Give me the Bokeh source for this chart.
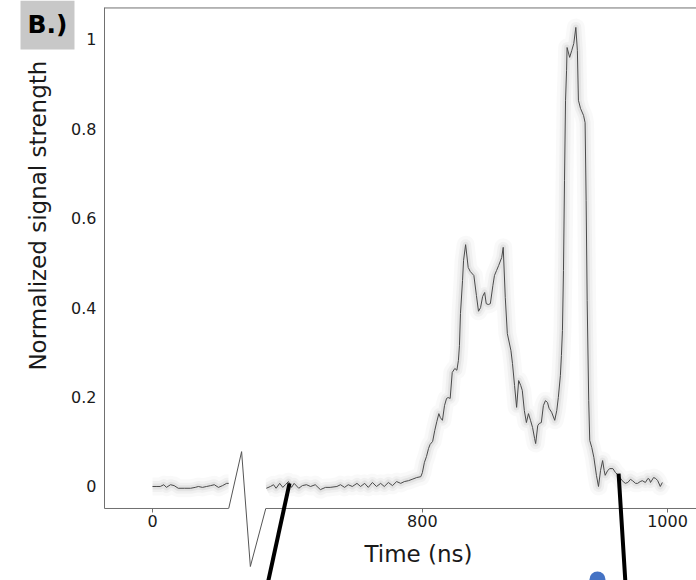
import numpy as np
from bokeh.plotting import figure
from bokeh.models import FixedTicker, Label
from bokeh.embed import file_html
from bokeh.resources import INLINE

# ---- data (time axis: the 0 / 800 / 1000 labels sit at these positions) ----
pre_time = [0, 7, 15, 22, 27, 35, 42, 50, 62, 74, 83, 89, 97, 105, 113, 120, 128, 136, 144, 148]
pre_signal = [0, 0, 0, 0.004, -0.002, 0.004, 0.002, -0.004, -0.004, -0.004, -0.002, 0, -0.002, 0,
              0.002, 0.004, -0.002, 0.002, 0.007, 0.007]

post_time = [221, 229, 235, 240, 247, 253, 258, 264, 270, 275, 284, 291, 299, 307, 316, 326, 336, 345,
             358, 365, 373, 380, 388, 397, 404, 412, 419, 427, 435, 443, 450, 458, 466, 474, 482, 489,
             497, 504, 513, 521, 524, 528, 532, 536, 539, 544, 548, 552, 556, 559, 563, 567, 571, 574,
             578, 582, 587, 591, 594, 596, 598, 602, 604, 608, 613, 617, 624, 629, 633, 637, 641, 645,
             648, 652, 656, 661, 664, 668, 672, 678, 681, 685, 689, 696, 699, 703, 707, 711, 715, 718,
             722, 726, 730, 734, 738, 742, 744, 748, 751, 755, 759, 763, 767, 770, 775, 781, 785, 788,
             792, 794, 796, 798, 800, 802, 804, 805, 810, 814, 818, 822, 825, 827, 831, 837, 840, 842,
             844, 847, 849, 853, 857, 862, 866, 870, 874, 877, 879, 884, 888, 894, 899, 903, 909, 912,
             918, 923, 928, 932, 938, 942, 947, 951, 957, 962, 965, 967, 973, 977, 981, 986, 990]
post_signal = [-0.004, 0, 0.004, -0.004, 0.007, -0.002, 0.004, 0.011, -0.002, 0.007, -0.004, 0.002,
               0.004, 0, 0.004, -0.007, -0.002, -0.002, 0, 0.004, -0.002, 0.004, 0, 0.007, 0, 0.007,
               -0.002, 0.009, 0, 0.007, 0, 0.009, 0.002, 0.011, 0.007, 0.011, 0.013, 0.016, 0.020,
               0.022, 0.031, 0.054, 0.067, 0.085, 0.094, 0.101, 0.125, 0.145, 0.163, 0.154, 0.148,
               0.181, 0.197, 0.199, 0.197, 0.255, 0.264, 0.260, 0.282, 0.315, 0.387, 0.461, 0.506,
               0.541, 0.490, 0.481, 0.472, 0.427, 0.392, 0.400, 0.425, 0.434, 0.409, 0.407, 0.409,
               0.450, 0.472, 0.483, 0.494, 0.512, 0.535, 0.423, 0.342, 0.304, 0.275, 0.226, 0.177,
               0.237, 0.226, 0.215, 0.170, 0.143, 0.163, 0.148, 0.132, 0.107, 0.096, 0.136, 0.141,
               0.143, 0.181, 0.192, 0.188, 0.175, 0.166, 0.148, 0.170, 0.199, 0.248, 0.293, 0.349,
               0.483, 0.685, 0.864, 0.931, 0.982, 0.960, 0.975, 0.991, 1.027, 0.975, 0.864, 0.846,
               0.830, 0.814, 0.640, 0.416, 0.192, 0.103, 0.087, 0.065, 0.025, 0, 0.036, 0.058, 0.036,
               0.025, 0.036, 0.040, 0.040, 0.031, 0.027, 0.018, 0.013, 0.007, 0.009, 0.016, 0.013,
               0.007, 0.007, 0.011, 0.013, 0.009, 0.018, 0.016, 0.009, 0.020, 0.018, 0.013, 0, 0.009]

trigger_time = [148, 173, 190, 220]
trigger_signal = [-0.049, 0.078, -0.179, -0.049]

callout_start_time = [266, 905]
callout_start_signal = [0.007, 0.029]
callout_end_time = [225, 918]
callout_end_signal = [-0.2103, -0.2103]

marker_time = [864]
marker_signal = [-0.208]

x_ticks = [0, 524, 1000]
x_tick_labels = ["0", "800", "1000"]
y_ticks = [0, 0.2, 0.4, 0.6, 0.8, 1.0]
y_tick_labels = ["0", "0.2", "0.4", "0.6", "0.8", "1"]

FONT = "DejaVu Sans"
AXIS_GRAY = "#707070"
TEXT = "#1a1a1a"

# full-canvas frame; axes are pinned inside it
x_start, x_end = -295.15, 1056.3
y_start, y_end = -0.2103, 1.0872
axis_x = -93.2         # position of the vertical axis
axis_y = -0.0492       # position of the horizontal axis
top_y = 1.0705         # top border

p = figure(width=696, height=580, x_range=(x_start, x_end), y_range=(y_start, y_end),
           output_backend="svg", toolbar_location=None, min_border=0)
p.grid.visible = False
p.outline_line_color = None
p.background_fill_color = "white"
p.border_fill_color = "white"

# axes
xa = p.xaxis[0]
xa.fixed_location = axis_y
xa.bounds = (axis_x, x_end)
xa.ticker = FixedTicker(ticks=x_ticks)
xa.major_label_overrides = dict(zip(x_ticks, x_tick_labels))
xa.axis_line_color = None
xa.major_tick_line_color = AXIS_GRAY
xa.major_tick_out = 4
xa.major_tick_in = 0
xa.minor_tick_line_color = None
xa.major_label_standoff = 3

ya = p.yaxis[0]
ya.fixed_location = axis_x
ya.bounds = (axis_y, top_y)
ya.ticker = FixedTicker(ticks=y_ticks)
ya.major_label_overrides = dict(zip(y_ticks, y_tick_labels))
ya.axis_line_color = AXIS_GRAY
ya.major_tick_line_color = None
ya.major_tick_out = 0
ya.major_tick_in = 0
ya.minor_tick_line_color = None
ya.major_label_standoff = 8

for ax in (xa, ya):
    ax.major_label_text_font = FONT
    ax.major_label_text_font_size = "16px"
    ax.major_label_text_color = TEXT

# frame lines: top border and broken bottom baseline
p.segment(x0=[axis_x, axis_x, trigger_time[-1]], y0=[top_y, axis_y, axis_y],
          x1=[x_end, trigger_time[0], x_end], y1=[top_y, axis_y, axis_y],
          line_color=AXIS_GRAY, line_width=1)

# soft shadow under the trace
for w, a in [(18, 0.025), (11, 0.035), (6, 0.05)]:
    p.line(pre_time, pre_signal, line_width=w, line_color="black", line_alpha=a, line_join="round")
    p.line(post_time, post_signal, line_width=w, line_color="black", line_alpha=a, line_join="round")

# white patch behind the trigger glyph
p.quad(left=[trigger_time[0]], right=[trigger_time[-1]], bottom=[axis_y], top=[0.085],
       fill_color="white", line_color=None)

# trace
p.line(pre_time, pre_signal, line_width=1, line_color="#4a4a4a")
p.line(post_time, post_signal, line_width=1, line_color="#4a4a4a")

# trigger glyph
p.line(trigger_time, trigger_signal, line_width=1, line_color="#555555")

# callout lines and marker
p.segment(x0=callout_start_time, y0=callout_start_signal, x1=callout_end_time, y1=callout_end_signal,
          line_color="black", line_width=4)
p.scatter(marker_time, marker_signal, size=16, fill_color="#4472c4", line_color=None)

# texts
p.add_layout(Label(x=-223.3, y=0.606, text="Normalized signal strength", angle=np.pi / 2,
                   text_align="center", text_baseline="middle", text_font=FONT,
                   text_font_size="23px", text_color=TEXT))
p.add_layout(Label(x=516.5, y=-0.150, text="Time (ns)", text_align="center", text_baseline="middle",
                   text_font=FONT, text_font_size="23px", text_color=TEXT))
p.add_layout(Label(x=-203.9, y=1.0324, text="B.)", text_align="center", text_baseline="middle",
                   text_font=FONT, text_font_size="25px", text_font_style="bold", text_color="black",
                   background_fill_color="#c8c8c8",
                   padding=dict(left=7, right=7, top=10, bottom=10)))

open("out.html", "w").write(file_html(p, INLINE))
